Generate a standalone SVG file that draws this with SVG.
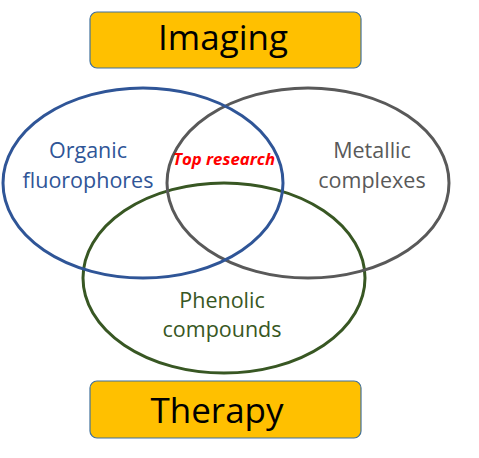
<svg xmlns="http://www.w3.org/2000/svg" width="479" height="458" viewBox="0 0 479 458">
<style>
.box{fill:#FFC000;stroke:#41719C;stroke-width:1.2}
.big{font-family:"Open Sans","Liberation Sans",sans-serif;font-size:35px;fill:#000;text-anchor:middle}
.lbl{font-family:"Open Sans","Liberation Sans",sans-serif;font-size:21.5px;text-anchor:middle}
.ell{fill:none;stroke-width:3}
</style>
<rect width="479" height="458" fill="#fff"/>
<g id="imaging">
<rect class="box" x="90" y="12" width="271" height="56" rx="7"/>
<text class="big" x="223" y="50">Imaging</text>
</g>
<g id="therapy">
<rect class="box" x="90" y="381" width="271" height="57" rx="7"/>
<text class="big" x="217" y="423">Therapy</text>
</g>
<g id="phenolic">
<ellipse class="ell" cx="224" cy="278" rx="141" ry="95" stroke="#385723"/>
<text class="lbl" fill="#385723" x="222" y="308">Phenolic</text>
<text class="lbl" fill="#385723" x="222" y="337">compounds</text>
</g>
<g id="metallic">
<ellipse class="ell" cx="308" cy="183" rx="141" ry="95" stroke="#595959"/>
<text class="lbl" fill="#595959" x="372" y="158">Metallic</text>
<text class="lbl" fill="#595959" x="372" y="188">complexes</text>
</g>
<g id="organic">
<ellipse class="ell" cx="143" cy="183" rx="140" ry="95" stroke="#2F5597"/>
<text class="lbl" fill="#2F5597" x="88" y="158">Organic</text>
<text class="lbl" fill="#2F5597" x="88" y="188">fluorophores</text>
</g>
<g id="top">
<text x="224" y="165" font-family="'Open Sans','Liberation Sans',sans-serif" font-size="16.8" font-weight="bold" font-style="italic" fill="#FF0000" text-anchor="middle">Top research</text>
</g>
<g id="connectors"/>
</svg>
